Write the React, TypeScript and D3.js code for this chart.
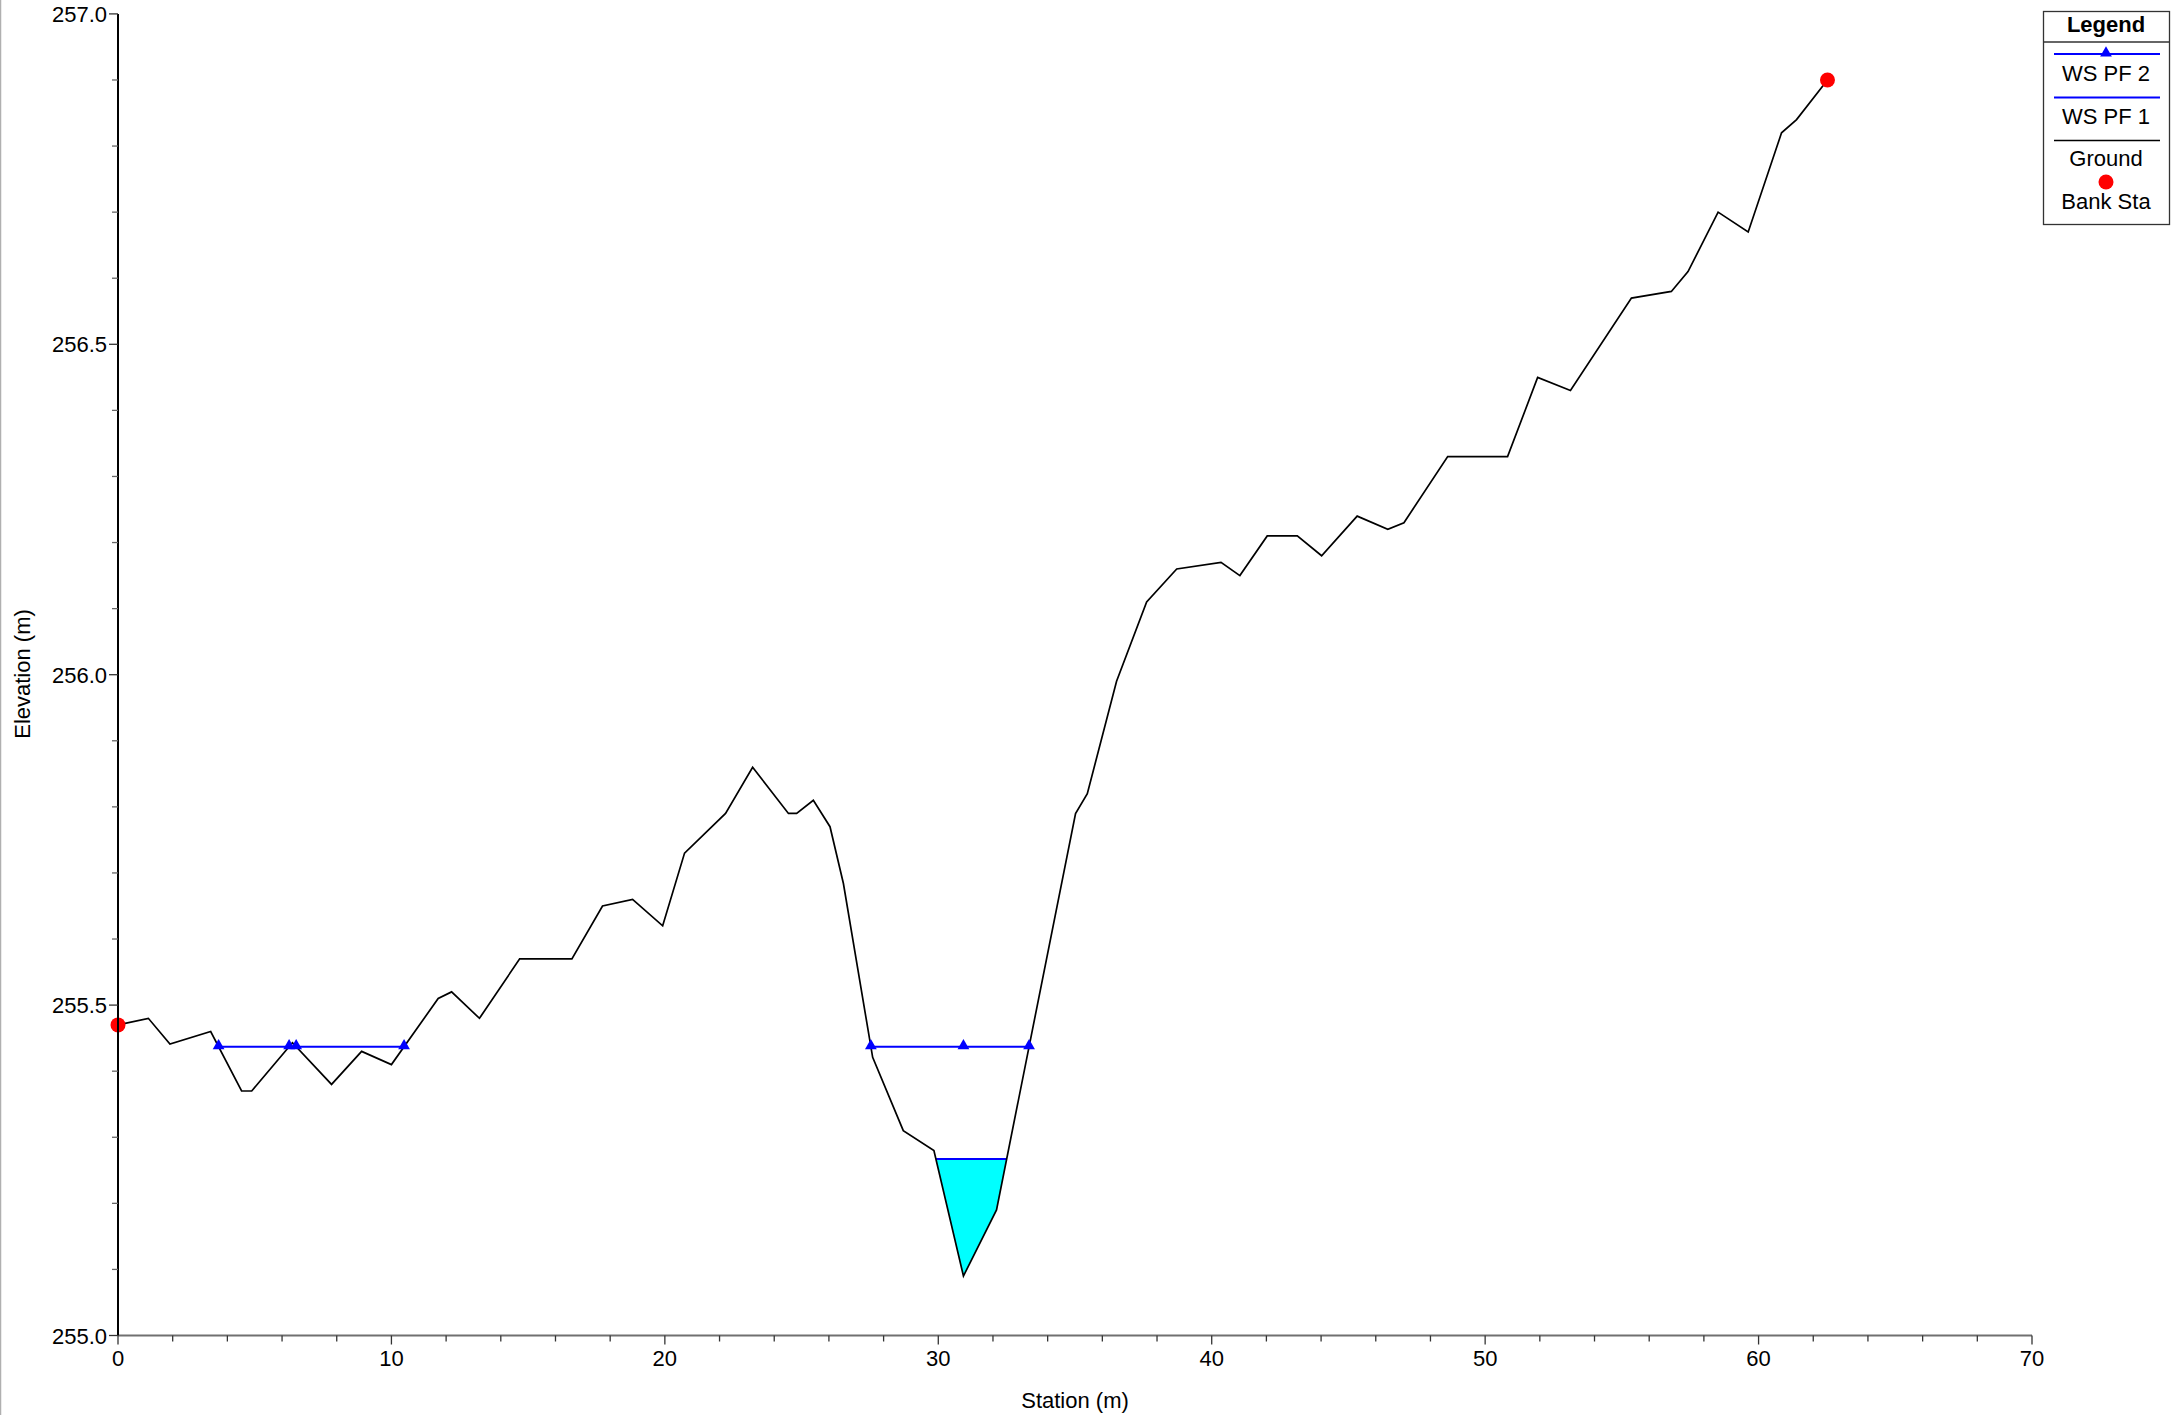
import React from "react";
import * as d3 from "d3";

// ---- data ----
const groundStations = [0, 1.11, 1.9, 3.39, 4.52, 4.89, 6.38, 7.81, 8.91, 10.0, 11.71, 12.2, 13.22, 14.69, 16.6, 17.72, 18.82, 19.92, 20.72, 22.22, 23.21, 24.52, 24.82, 25.43, 26.04, 26.53, 27.6, 28.72, 29.84, 30.92, 32.13, 35.02, 35.45, 36.52, 37.62, 38.72, 40.34, 41.03, 42.03, 43.13, 44.02, 45.32, 46.44, 47.03, 48.63, 50.82, 51.92, 53.12, 55.35, 56.81, 57.42, 58.52, 59.62, 60.84, 61.39, 62.52];
const groundElevations = [255.47, 255.48, 255.441, 255.46, 255.37, 255.37, 255.443, 255.38, 255.43, 255.41, 255.51, 255.52, 255.48, 255.57, 255.57, 255.65, 255.66, 255.62, 255.73, 255.79, 255.86, 255.79, 255.79, 255.81, 255.77, 255.684, 255.421, 255.31, 255.28, 255.09, 255.19, 255.79, 255.82, 255.99, 256.11, 256.16, 256.17, 256.15, 256.21, 256.21, 256.18, 256.24, 256.22, 256.23, 256.33, 256.33, 256.45, 256.43, 256.57, 256.58, 256.61, 256.70, 256.67, 256.82, 256.84, 256.90];
const bankStations = [0, 62.52];
const bankElevations = [255.47, 256.9];
const wsPf2Elevation = 255.437;
const wsPf1Elevation = 255.267;
const xTickValues = [0, 10, 20, 30, 40, 50, 60, 70];
const yTickValues = [255.0, 255.5, 256.0, 256.5, 257.0];
const legendLabels = ["WS PF 2", "WS PF 1", "Ground", "Bank Sta"];

const W = 2179, H = 1415;
const FONT = "'Liberation Sans', Arial, Helvetica, sans-serif";
const FS = 22;

const x = d3.scaleLinear().domain([0, 70]).range([118, 2032]);
const y = d3.scaleLinear().domain([255, 257]).range([1335.5, 13.9]);

type Pt = [number, number];
const ground: Pt[] = groundStations.map((s, i) => [s, groundElevations[i]]);

// wetted extents and fill polygons for a water surface elevation
function wetAreas(elev: number) {
  const polys: Pt[][] = [];
  let cur: Pt[] | null = null;
  for (let i = 0; i < ground.length; i++) {
    const [s, g] = ground[i];
    if (g < elev) {
      if (!cur) {
        if (i > 0) {
          const [s0, g0] = ground[i - 1];
          const t = (elev - g0) / (g - g0);
          cur = [[s0 + t * (s - s0), elev]];
        } else cur = [[s, elev]];
      }
      cur.push([s, g]);
    } else if (cur) {
      const [s0, g0] = ground[i - 1];
      const t = (elev - g0) / (g - g0);
      cur.push([s0 + t * (s - s0), elev]);
      polys.push(cur);
      cur = null;
    }
  }
  if (cur) polys.push(cur);
  return polys;
}

const pf2 = wetAreas(wsPf2Elevation);
const pf1 = wetAreas(wsPf1Elevation);
const thalweg = ground.reduce((a, b) => (b[1] < a[1] ? b : a));
const pf2Markers: number[] = [];
pf2.forEach((p) => {
  pf2Markers.push(p[0][0]);
  if (thalweg[0] > p[0][0] && thalweg[0] < p[p.length - 1][0]) pf2Markers.push(thalweg[0]);
  pf2Markers.push(p[p.length - 1][0]);
});

const line = d3.line<Pt>().x((d) => x(d[0])).y((d) => y(d[1]));
const tri = d3.symbol().type(d3.symbolTriangle).size(60)();

export default function App() {
  const xMinor = d3.range(0, 70.001, 2);
  const yMinor = d3.range(0, 21).map((i) => 255 + i * 0.1);
  const lx = 2106;
  return (
    <svg width={W} height={H} style={{ position: "absolute", left: 0, top: 0, background: "#fff" }} fontFamily={FONT}>
      <rect x={0} y={0} width={W} height={H} fill="#fff" />
      <line x1={0.5} y1={0} x2={0.5} y2={H} stroke="#b0b0b0" strokeWidth={1.5} />

      {/* PF1 fill */}
      {pf1.map((p, i) => (
        <path key={"f" + i} d={line(p) + "Z"} fill="#00FFFF" stroke="none" />
      ))}
      {pf1.map((p, i) => (
        <line key={"w1" + i} x1={x(p[0][0])} x2={x(p[p.length - 1][0])} y1={y(wsPf1Elevation)} y2={y(wsPf1Elevation)} stroke="#0000FF" strokeWidth={2} />
      ))}

      {/* Ground */}
      <path d={line(ground) || ""} fill="none" stroke="#000" strokeWidth={1.7} strokeLinejoin="miter" />

      {/* PF2 */}
      {pf2.map((p, i) => (
        <line key={"w2" + i} x1={x(p[0][0])} x2={x(p[p.length - 1][0])} y1={y(wsPf2Elevation)} y2={y(wsPf2Elevation)} stroke="#0000FF" strokeWidth={2} />
      ))}
      {pf2Markers.map((s, i) => (
        <path key={"m" + i} d={tri || ""} transform={`translate(${x(s)},${y(wsPf2Elevation) - 1})`} fill="#0000FF" />
      ))}

      {/* bank stations */}
      {bankStations.map((s, i) => (
        <circle key={"b" + i} cx={x(s)} cy={y(bankElevations[i])} r={7.5} fill="#FF0000" />
      ))}

      {/* axes */}
      <line x1={x(0)} x2={x(70)} y1={y(255)} y2={y(255)} stroke="#707070" strokeWidth={2} />
      <line x1={x(0)} x2={x(0)} y1={y(255)} y2={y(257)} stroke="#000" strokeWidth={2} />
      {xMinor.map((v, i) => {
        const major = Math.abs(v % 10) < 1e-6;
        return <line key={"xt" + i} x1={x(v)} x2={x(v)} y1={y(255)} y2={y(255) + (major ? 9 : 6)} stroke="#333" strokeWidth={1.3} />;
      })}
      {yMinor.map((v, i) => {
        const major = Math.abs(((v - 255) * 10) % 5) < 1e-6;
        return <line key={"yt" + i} x1={x(0) - (major ? 9 : 6)} x2={x(0)} y1={y(v)} y2={y(v)} stroke={major ? "#333" : "#666"} strokeWidth={1.3} />;
      })}
      {xTickValues.map((v) => (
        <text key={"xl" + v} x={x(v)} y={y(255) + 30} fontSize={FS} textAnchor="middle" fill="#000">{v}</text>
      ))}
      {yTickValues.map((v) => (
        <text key={"yl" + v} x={x(0) - 11} y={y(v) + 8} fontSize={FS} textAnchor="end" fill="#000">{d3.format(".1f")(v)}</text>
      ))}
      <text x={1075} y={1408} fontSize={FS} textAnchor="middle" fill="#000">Station (m)</text>
      <text transform="translate(29.5,674) rotate(-90)" fontSize={FS} textAnchor="middle" fill="#000">Elevation (m)</text>

      {/* legend */}
      <rect x={2043.5} y={11.5} width={126} height={213} fill="#fff" stroke="#333" strokeWidth={1.3} />
      <text x={lx} y={32} fontSize={FS} fontWeight="bold" textAnchor="middle">Legend</text>
      <line x1={2043.5} x2={2169.5} y1={42} y2={42} stroke="#333" strokeWidth={1.3} />
      <line x1={2054} x2={2160} y1={54} y2={54} stroke="#0000FF" strokeWidth={2} />
      <path d={tri || ""} transform={`translate(${lx},${53})`} fill="#0000FF" />
      <text x={lx} y={81} fontSize={FS} textAnchor="middle">{legendLabels[0]}</text>
      <line x1={2054} x2={2160} y1={97.5} y2={97.5} stroke="#0000FF" strokeWidth={2} />
      <text x={lx} y={124} fontSize={FS} textAnchor="middle">{legendLabels[1]}</text>
      <line x1={2054} x2={2160} y1={140.5} y2={140.5} stroke="#000" strokeWidth={1.6} />
      <text x={lx} y={166} fontSize={FS} textAnchor="middle">{legendLabels[2]}</text>
      <circle cx={lx} cy={182} r={7.5} fill="#FF0000" />
      <text x={lx} y={209} fontSize={FS} textAnchor="middle">{legendLabels[3]}</text>
    </svg>
  );
}
